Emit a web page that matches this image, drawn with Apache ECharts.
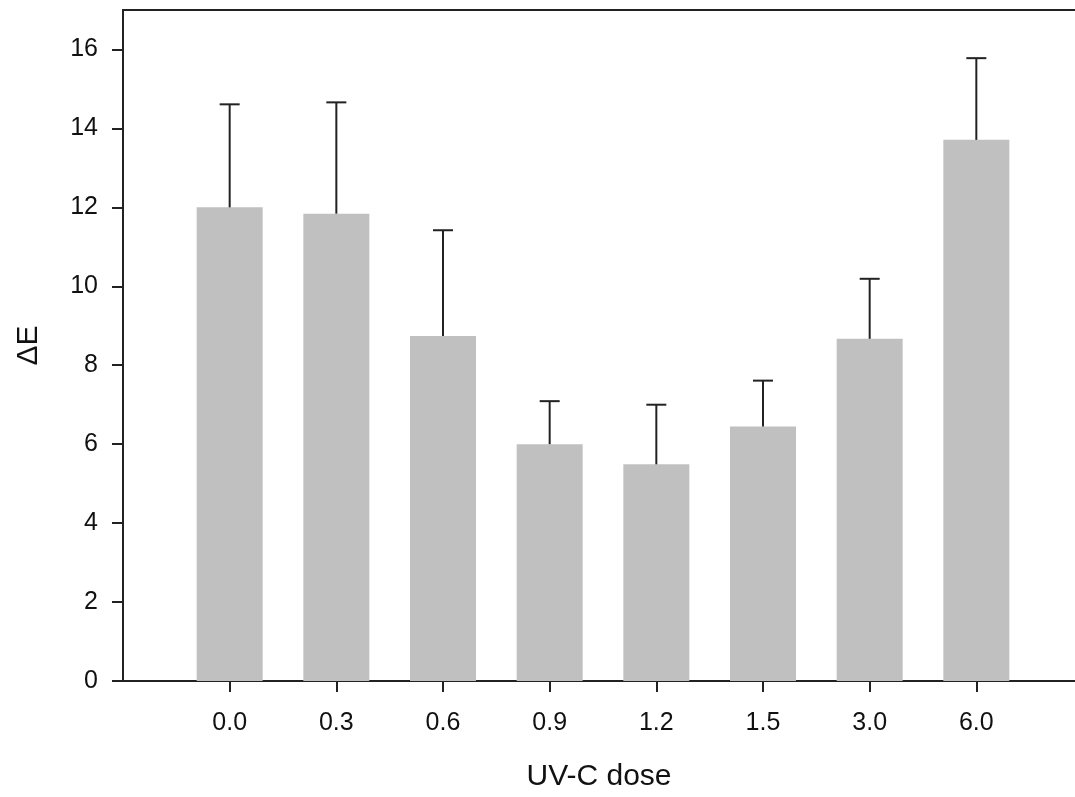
<!DOCTYPE html>
<html>
<head>
	<meta charset="UTF-8">
	<title>UV-C dose</title>
	<style type="text/css">
		* { margin: 0; padding: 0; }
		html, body { width: 100%; height: 100%; background: #fff; }
		#chart { width: 1075px; height: 797px; }
	</style>
</head>
<body>
	<div id="chart"></div>
	<script src="https://cdn.jsdelivr.net/npm/echarts@6/dist/echarts.min.js"></script>
	<script type="text/javascript">
		// 数据
		var doses = ['0.0', '0.3', '0.6', '0.9', '1.2', '1.5', '3.0', '6.0'];
		var meanE = [12.0, 11.84, 8.74, 6.0, 5.49, 6.45, 8.67, 13.71];
		var sdE = [2.61, 2.82, 2.68, 1.09, 1.51, 1.16, 1.52, 2.07];
		var yTicks = [0, 2, 4, 6, 8, 10, 12, 14, 16];

		// 两端各留一个空位
		var xCats = [''].concat(doses, ['']);
		var barData = meanE.map(function(v, i) { return [i + 1, v]; });
		var errData = meanE.map(function(v, i) { return [i + 1, v, v + sdE[i]]; });

		var font = 'Liberation Sans, Arial, sans-serif';
		var ink = '#222';

		var myChart = echarts.init(document.getElementById('chart'));
		var option = {
			animation: false,
			// 右边框放到画布外面
			grid: {
				show: true, left: 123, top: 10, right: -8, bottom: 116,
				borderColor: ink, borderWidth: 2, outerBoundsMode: 'none'
			},
			xAxis: {
				type: 'category',
				data: xCats,
				boundaryGap: false,
				splitLine: { show: false },
				axisLine: { onZero: false, lineStyle: { color: ink, width: 2 } },
				axisTick: {
					show: true,
					length: 11,
					interval: function(idx) { return idx > 0 && idx <= doses.length; },
					lineStyle: { color: ink, width: 2 }
				},
				axisLabel: {
					interval: 0,
					margin: 30,
					fontSize: 25,
					fontFamily: font,
					color: '#111'
				},
				name: 'UV-C dose',
				nameLocation: 'middle',
				nameGap: 81,
				nameTextStyle: { fontSize: 30, fontFamily: font, color: '#111', padding: [0, 8, 0, 0] }
			},
			yAxis: {
				type: 'value',
				min: 0,
				max: 17,
				position: 'left',
				splitLine: { show: false },
				axisLine: { show: true, onZero: false, lineStyle: { color: ink, width: 2 } },
				axisTick: { show: true, length: 11, customValues: yTicks, lineStyle: { color: ink, width: 2 } },
				axisLabel: {
					customValues: yTicks,
					margin: 25,
					fontSize: 25,
					fontFamily: font,
					color: '#111'
				},
				name: 'ΔE',
				nameLocation: 'middle',
				nameRotate: 90,
				nameGap: 79,
				nameTextStyle: { fontSize: 30, fontFamily: font, color: '#111' }
			},
			series: [{
				type: 'bar',
				data: barData,
				barWidth: 66,
				itemStyle: { color: '#c0c0c0' }
			}, {
				// 误差线
				type: 'custom',
				data: errData,
				z: 3,
				renderItem: function(params, api) {
					var base = api.coord([api.value(0), api.value(1)]);
					var top = api.coord([api.value(0), api.value(2)]);
					var half = 10;
					var style = { stroke: ink, lineWidth: 2 };
					return {
						type: 'group',
						children: [{
							type: 'line',
							shape: { x1: base[0], y1: base[1], x2: top[0], y2: top[1] },
							style: style
						}, {
							type: 'line',
							shape: { x1: top[0] - half, y1: top[1], x2: top[0] + half, y2: top[1] },
							style: style
						}]
					};
				}
			}]
		};
		myChart.setOption(option);
	</script>
</body>
</html>
